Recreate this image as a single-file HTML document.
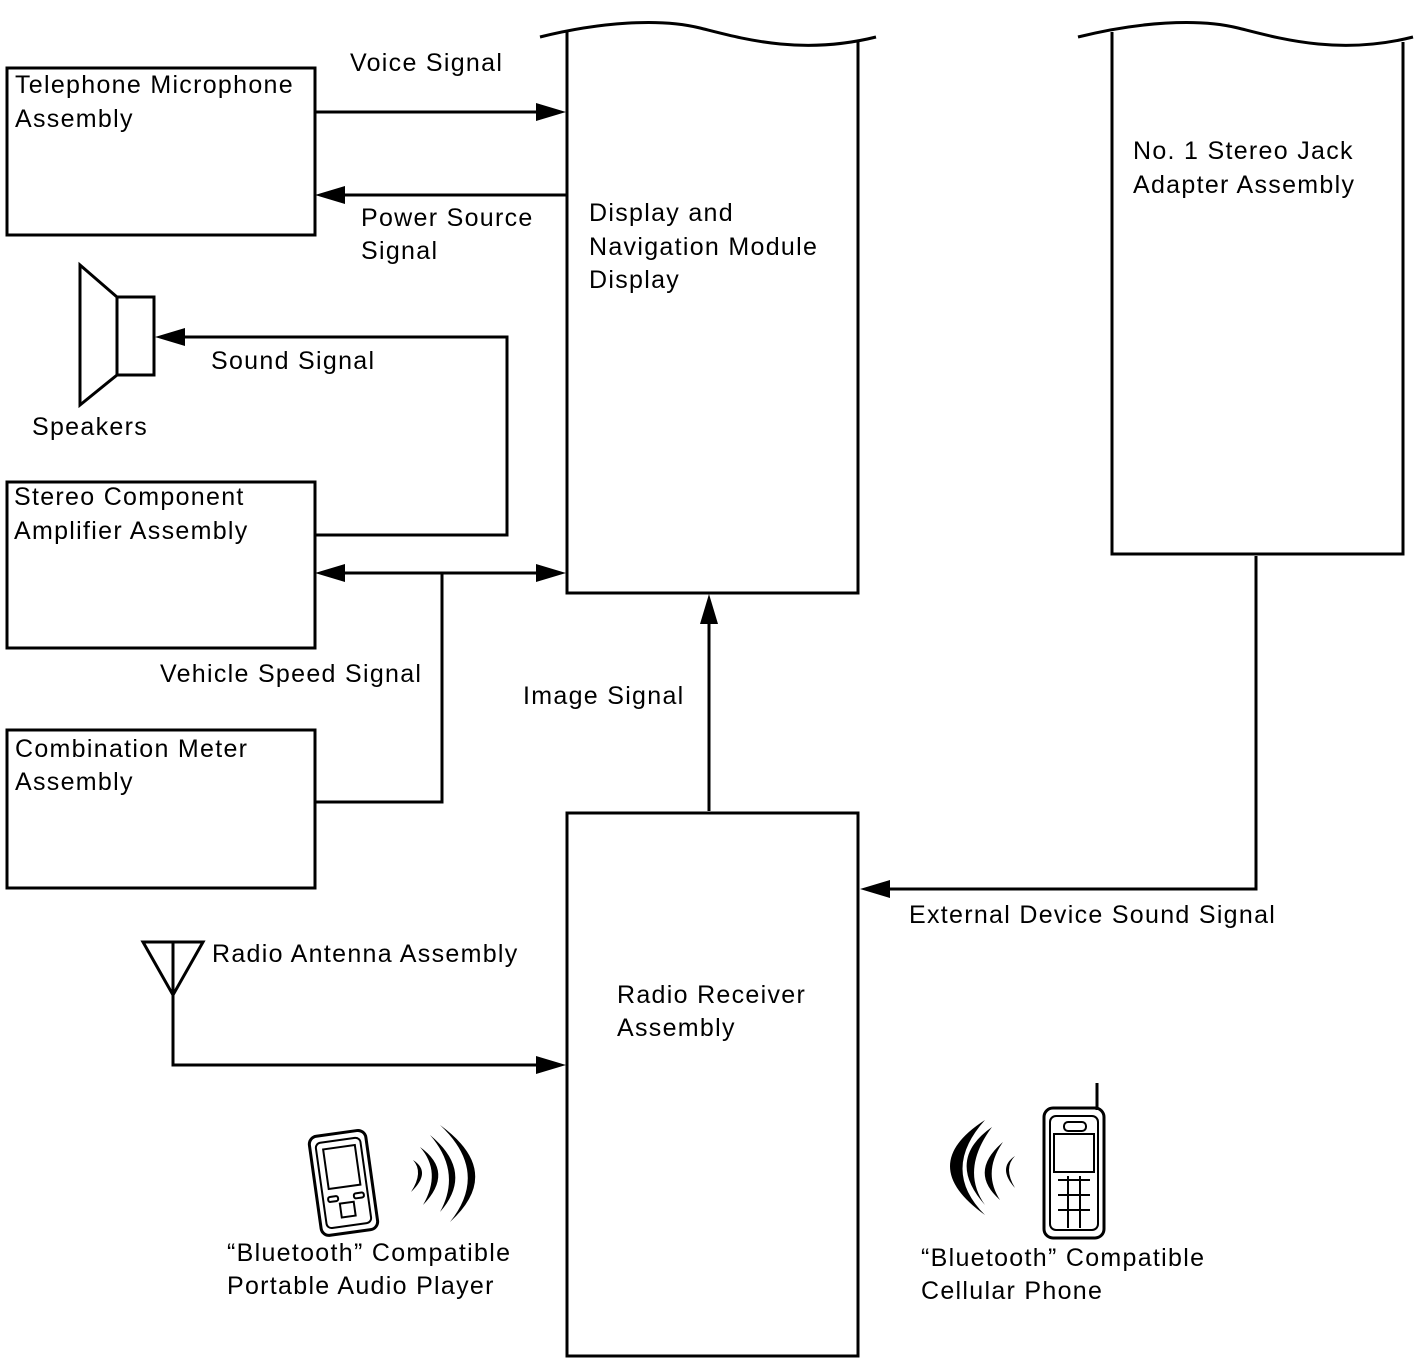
<!DOCTYPE html>
<html><head><meta charset="utf-8"><style>
html,body{margin:0;padding:0;background:#fff;}
svg{display:block;}
text{font-family:"Liberation Sans",sans-serif;font-size:25px;fill:#000;letter-spacing:1.3px;}
</style></head><body>
<svg width="1424" height="1361" viewBox="0 0 1424 1361" xmlns="http://www.w3.org/2000/svg">
<g fill="none" stroke="#000" stroke-width="3">
<rect x="7" y="68" width="308" height="167"/>
<rect x="7" y="482" width="308" height="166"/>
<rect x="7" y="730" width="308" height="158"/>
<rect x="567" y="813" width="291" height="543"/>
<path d="M567,32 L567,593 L858,593 L858,42"/>
<path d="M540,37 C600,22 660,18 700,28 S800,56 876,37"/>
<path d="M1112,32 L1112,554 L1403,554 L1403,42"/>
<path d="M1078,37 C1138,22 1198,18 1238,28 S1338,56 1413,37"/>
<path d="M80,265 L117,297 L117,375 L80,405 Z"/>
<rect x="117" y="297" width="37" height="78"/>
<line x1="315" y1="112" x2="545" y2="112"/>
<line x1="567" y1="195" x2="335" y2="195"/>
<polyline points="315,535 507,535 507,337 175,337"/>
<line x1="335" y1="573" x2="545" y2="573"/>
<polyline points="315,802 442,802 442,573"/>
<line x1="709" y1="811" x2="709" y2="615"/>
<polyline points="1256,556 1256,889 880,889"/>
<path d="M143,942 L203,942 L173,995 Z"/>
<line x1="173" y1="942" x2="173" y2="995"/>
<polyline points="173,995 173,1065 545,1065"/>
</g>
<g fill="#000">
<polygon points="566,112 536,103 536,121"/>
<polygon points="315,195 345,186 345,204"/>
<polygon points="155,337 185,328 185,346"/>
<polygon points="315,573 345,564 345,582"/>
<polygon points="566,573 536,564 536,582"/>
<polygon points="709,594 700,624 718,624"/>
<polygon points="860,889 890,880 890,898"/>
<polygon points="566,1065 536,1056 536,1074"/>
</g>
<g stroke="#000" fill="none">
<g transform="rotate(-8 343 1183)">
<rect x="315" y="1133" width="57" height="100" rx="8" stroke-width="3"/>
<rect x="321" y="1140" width="45" height="86" rx="5" stroke-width="2"/>
<rect x="328" y="1147" width="32" height="40" stroke-width="2"/>
<rect x="326" y="1195" width="10" height="5" rx="2" stroke-width="2"/>
<rect x="352" y="1195" width="10" height="5" rx="2" stroke-width="2"/>
<rect x="337" y="1203" width="14" height="14" stroke-width="2"/>
</g>
</g>
<g fill="#000">
<path d="M413,1160 Q432,1172 411,1192 Q424,1172 413,1160Z"/>
<path d="M420,1147 Q455,1172 423,1205 Q442,1172 420,1147Z"/>
<path d="M430,1135 Q475,1172 440,1212 Q462,1172 430,1135Z"/>
<path d="M440,1125 Q505,1172 450,1222 Q490,1172 440,1125Z"/>
</g>
<g stroke="#000" fill="none" stroke-width="3">
<line x1="1097" y1="1083" x2="1097" y2="1110"/>
<rect x="1044" y="1108" width="60" height="130" rx="9"/>
<rect x="1050" y="1116" width="48" height="114" rx="6" stroke-width="2"/>
<rect x="1054" y="1134" width="40" height="38" stroke-width="2"/>
<rect x="1064" y="1122" width="22" height="9" rx="4" stroke-width="2"/>
<path d="M1058,1180 L1090,1180 M1058,1195 L1090,1195 M1058,1210 L1090,1210 M1068,1176 L1068,1228 M1080,1176 L1080,1228" stroke-width="2"/>
</g>
<g fill="#000">
<path d="M1015,1156 Q997,1168 1015,1188 Q1003,1168 1015,1156Z"/>
<path d="M1003,1142 Q968,1172 1000,1200 Q982,1172 1003,1142Z"/>
<path d="M992,1127 Q945,1160 985,1205 Q960,1170 992,1127Z"/>
<path d="M985,1120 Q915,1165 985,1215 Q940,1170 985,1120Z"/>
</g>
<text x="15" y="93">Telephone Microphone</text>
<text x="15" y="127">Assembly</text>
<text x="350" y="71">Voice Signal</text>
<text x="361" y="226">Power Source</text>
<text x="361" y="259">Signal</text>
<text x="589" y="221">Display and</text>
<text x="589" y="255">Navigation Module</text>
<text x="589" y="288">Display</text>
<text x="1133" y="159">No. 1 Stereo Jack</text>
<text x="1133" y="193">Adapter Assembly</text>
<text x="211" y="369">Sound Signal</text>
<text x="32" y="435">Speakers</text>
<text x="14" y="505">Stereo Component</text>
<text x="14" y="539">Amplifier Assembly</text>
<text x="160" y="682">Vehicle Speed Signal</text>
<text x="523" y="704">Image Signal</text>
<text x="15" y="757">Combination Meter</text>
<text x="15" y="790">Assembly</text>
<text x="909" y="923">External Device Sound Signal</text>
<text x="212" y="962">Radio Antenna Assembly</text>
<text x="617" y="1003">Radio Receiver</text>
<text x="617" y="1036">Assembly</text>
<text x="227" y="1261">“Bluetooth” Compatible</text>
<text x="227" y="1294">Portable Audio Player</text>
<text x="921" y="1266">“Bluetooth” Compatible</text>
<text x="921" y="1299">Cellular Phone</text>
</svg>
</body></html>
